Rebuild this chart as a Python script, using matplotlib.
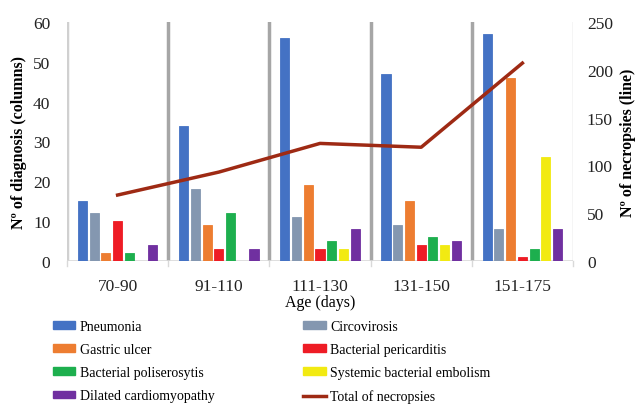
import matplotlib
matplotlib.use("Agg")
import matplotlib.pyplot as plt
import numpy as np
from matplotlib.patches import Patch
from matplotlib.lines import Line2D

plt.rcParams['font.family'] = ['Liberation Serif', 'DejaVu Serif']

categories = ["70-90", "91-110", "111-130", "131-150", "151-175"]
pneumonia = [15, 34, 56, 47, 57]
circovirosis = [12, 18, 11, 9, 8]
gastric_ulcer = [2, 9, 19, 15, 46]
bact_pericarditis = [10, 3, 3, 4, 1]
bact_poliserositis = [2, 12, 5, 6, 3]
systemic_embolism = [0, 0, 3, 4, 26]
dilated_cardio = [4, 3, 8, 5, 8]
total_necropsies = [69, 93, 123, 119, 207]

series = [
    ("Pneumonia", pneumonia, "#4472C4"),
    ("Circovirosis", circovirosis, "#8497B0"),
    ("Gastric ulcer", gastric_ulcer, "#ED7D31"),
    ("Bacterial pericarditis", bact_pericarditis, "#EE1C25"),
    ("Bacterial poliserosytis", bact_poliserositis, "#1DAF4E"),
    ("Systemic bacterial embolism", systemic_embolism, "#F2EA12"),
    ("Dilated cardiomyopathy", dilated_cardio, "#7030A0"),
]

fig = plt.figure(figsize=(6.4, 4.06), dpi=100)
ax = fig.add_axes([67/640, 1-262/406, (573-67)/640, (262-23)/406])
x = np.arange(len(categories))
step = 0.116
width = 0.09
handles = {}
for i, (name, vals, col) in enumerate(series):
    ax.bar(x + (i-3)*step, vals, width=width, color=col, edgecolor=col, linewidth=0.6, zorder=3)
    handles[name] = Patch(facecolor=col, edgecolor=col)

ax.set_xlim(-0.5, 4.5)
ax.set_ylim(0, 60)
ax.set_yticks(range(0, 61, 10))
ax.set_xticks(x)
ax.set_xticklabels(categories)
for b in np.arange(0.5, 4.5, 1):
    ax.axvline(b, color="#A6A6A6", lw=2.5, zorder=1)
ax.axvline(-0.5, color="#D0D0D0", lw=2.5, zorder=1)
ax.axvline(4.5, color="#D0D0D0", lw=1, zorder=1)
ax.axvline(4.5 + 0.008, color="#D0D0D0", lw=1, zorder=1)
for s in ax.spines.values():
    s.set_visible(False)
ax.axhline(0, color="#D9D9D9", lw=1.2, zorder=2)
for b in np.arange(-0.5, 4.6, 1):
    ax.plot([b, b], [0, -1.2], color="#D9D9D9", lw=1, clip_on=False, zorder=2)
ax.tick_params(axis='both', length=0, labelsize=12.5, colors="#222222")
ax.tick_params(axis='x', pad=12)
ax.tick_params(axis='y', pad=12)
ax.set_ylabel("Nº of diagnosis (columns)", fontsize=11.5, fontweight='bold', labelpad=4)
ax.set_xlabel("Age (days)", fontsize=11.5, labelpad=0)

ax2 = ax.twinx()
ax2.set_ylim(0, 250)
ax2.set_yticks(range(0, 251, 50))
for s in ax2.spines.values():
    s.set_visible(False)
ax2.tick_params(axis='y', length=0, labelsize=12.5, colors="#222222", pad=10)
ax2.plot(x, total_necropsies, color="#9E2A14", lw=2.5, zorder=4)
ax2.set_ylabel("Nº of necropsies (line)", fontsize=11.5, fontweight='bold', labelpad=5)

line_h = Line2D([0], [0], color="#9E2A14", lw=2.5)
order = ["Pneumonia", "Gastric ulcer", "Bacterial poliserosytis", "Dilated cardiomyopathy",
         "Circovirosis", "Bacterial pericarditis", "Systemic bacterial embolism"]
hl = [handles[n] for n in order] + [line_h]
labels = order + ["Total of necropsies"]
fig.legend(hl, labels, ncol=2, loc='upper left', bbox_to_anchor=(47/640, 1-315/406),
           frameon=False, fontsize=10, handlelength=1.65, handleheight=0.5,
           columnspacing=6.4, labelspacing=0.74, handletextpad=0.3, borderaxespad=0)

fig.savefig("out.png", dpi=100)
